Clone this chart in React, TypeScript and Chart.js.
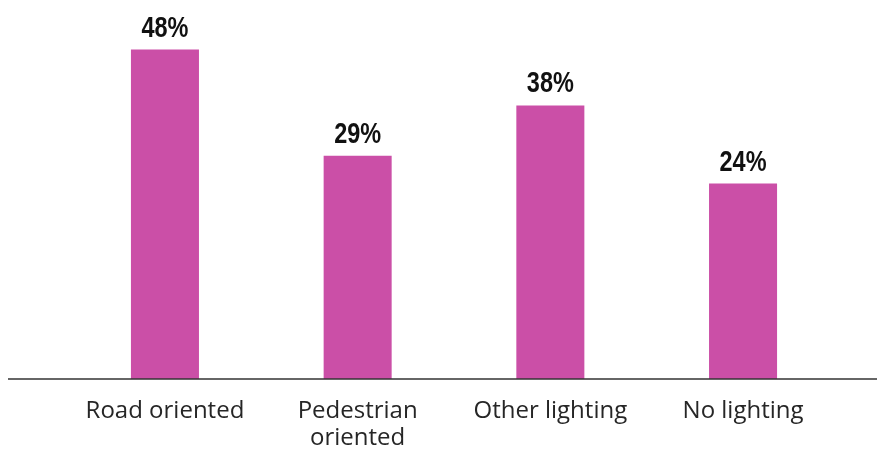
import React, { useEffect, useRef } from "react";
import { Chart, registerables } from "chart.js";

Chart.register(...registerables);

const categories: (string | string[])[] = [
  "Road oriented",
  ["Pedestrian", "oriented"],
  "Other lighting",
  "No lighting",
];
const values: number[] = [48, 29, 38, 24];
const valueLabels: string[] = ["48%", "29%", "38%", "24%"];

const BAR_COLOR = "#CB4FA7";

const labelPlugin = {
  id: "valueLabels",
  afterDatasetsDraw(chart: any) {
    const ctx = chart.ctx;
    const meta = chart.getDatasetMeta(0);
    meta.data.forEach((bar: any, i: number) => {
      ctx.save();
      ctx.font = "bold 29px 'Liberation Sans', Arial, sans-serif";
      ctx.fillStyle = "#111111";
      ctx.textAlign = "center";
      ctx.textBaseline = "alphabetic";
      ctx.translate(bar.x, bar.y - 13);
      ctx.scale(0.81, 1);
      ctx.fillText(valueLabels[i], 0, 0);
      ctx.restore();
    });
  },
};

const axisLinePlugin = {
  id: "axisLine",
  afterDatasetsDraw(chart: any) {
    const ctx = chart.ctx;
    const y = chart.chartArea.bottom;
    ctx.save();
    ctx.strokeStyle = "#333333";
    ctx.lineWidth = 1.5;
    ctx.beginPath();
    ctx.moveTo(8, y);
    ctx.lineTo(chart.width, y);
    ctx.stroke();
    ctx.restore();
  },
};

export default function App() {
  const ref = useRef<HTMLCanvasElement>(null);
  useEffect(() => {
    if (!ref.current) return;
    const chart = new Chart(ref.current, {
      type: "bar",
      data: {
        labels: categories,
        datasets: [
          {
            data: values,
            base: -11,
            backgroundColor: BAR_COLOR,
            borderWidth: 0,
            categoryPercentage: 1,
            barPercentage: 0.353,
          } as any,
        ],
      },
      options: {
        animation: false,
        responsive: false,
        maintainAspectRatio: false,
        layout: { padding: { left: 68.6, right: 37.6, top: 38.4, bottom: -20 } },
        plugins: { legend: { display: false }, tooltip: { enabled: false } },
        scales: {
          x: {
            grid: { display: false, drawTicks: false },
            border: { display: false },
            ticks: {
              color: "#262626",
              padding: 19,
              maxRotation: 0,
              autoSkip: false,
              font: { family: "'Open Sans', sans-serif", size: 24, lineHeight: 1.125 },
            },
          },
          y: {
            display: false,
            min: -11,
            max: 50,
          },
        },
      },
      plugins: [labelPlugin, axisLinePlugin],
    });
    return () => chart.destroy();
  }, []);
  return (
    <div style={{ position: "fixed", left: 0, top: 0, width: 877, height: 451, background: "#fff" }}>
      <canvas ref={ref} width={877} height={451} style={{ width: 877, height: 451, display: "block" }} />
    </div>
  );
}
